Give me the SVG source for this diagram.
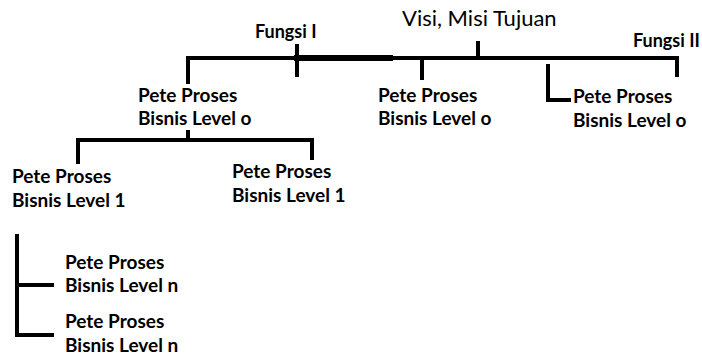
<svg xmlns="http://www.w3.org/2000/svg" width="702" height="364" viewBox="0 0 702 364">
<style>
text{font-family:Lato,"Open Sans","Liberation Sans",sans-serif;font-weight:bold;fill:#000;font-size:19px}
.big{font-size:22px;font-weight:normal}
.fn{font-size:18px}
.ln{stroke:#000;stroke-width:4;fill:none;stroke-linecap:square}
.thick{stroke-width:6}
</style>
<rect width="702" height="364" fill="#fff"/>
<g id="connectors">
<path class="ln" d="M188,82 V58 H677 V75"/>
<path class="ln thick" d="M297,58 H390"/>
<path class="ln" d="M297,46 V75"/>
<path class="ln" d="M478,43 V58"/>
<path class="ln" d="M422,58 V78"/>
<path class="ln" d="M548,66 V100 H569"/>
<path class="ln" d="M188,132 V140"/>
<path class="ln" d="M78,162 V140 H312 V158"/>
<path class="ln" d="M17,236 V335 H52"/>
<path class="ln" d="M17,285 H52"/>
</g>
<g id="visi"><text class="big" x="402" y="26">Visi, Misi Tujuan</text></g>
<g id="fungsi1"><text class="fn" x="255" y="38">Fungsi I</text></g>
<g id="fungsi2"><text class="fn" x="633" y="47">Fungsi II</text></g>
<g id="l0a"><text x="138" y="102">Pete Proses</text><text x="138" y="125">Bisnis Level o</text></g>
<g id="l0b"><text x="378" y="102">Pete Proses</text><text x="378" y="125">Bisnis Level o</text></g>
<g id="l0c"><text x="573" y="103">Pete Proses</text><text x="573" y="127">Bisnis Level o</text></g>
<g id="l1a"><text x="12" y="183">Pete Proses</text><text x="12" y="207">Bisnis Level 1</text></g>
<g id="l1b"><text x="232" y="178">Pete Proses</text><text x="232" y="202">Bisnis Level 1</text></g>
<g id="lna"><text x="65" y="269">Pete Proses</text><text x="65" y="292">Bisnis Level n</text></g>
<g id="lnb"><text x="65" y="328">Pete Proses</text><text x="65" y="352">Bisnis Level n</text></g>
</svg>
